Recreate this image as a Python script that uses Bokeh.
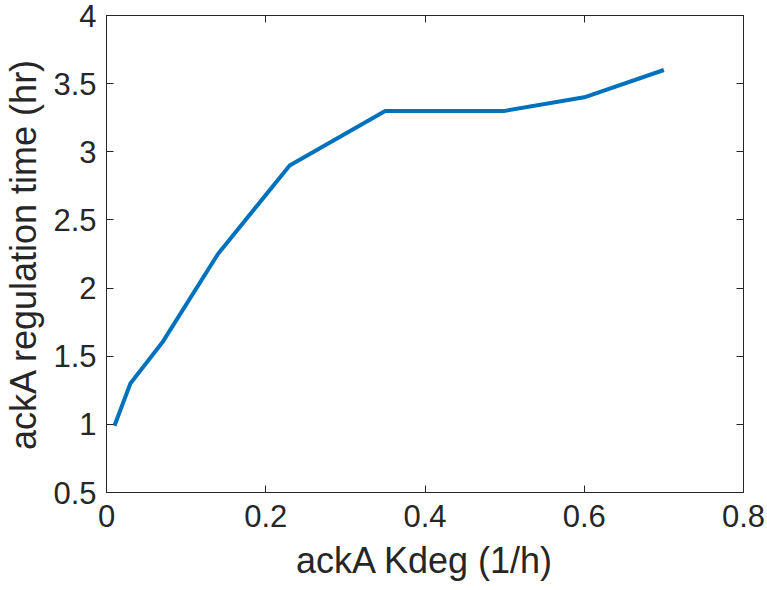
from bokeh.plotting import figure
from bokeh.models import Range1d, LinearAxis, FixedTicker
from bokeh.embed import file_html
from bokeh.resources import INLINE

kdeg = [0.01, 0.03, 0.07, 0.14, 0.23, 0.35, 0.5, 0.6, 0.7]
reg_time = [0.99, 1.3, 1.6, 2.25, 2.9, 3.3, 3.3, 3.4, 3.6]
x_ticks = [0, 0.2, 0.4, 0.6, 0.8]
y_ticks = [0.5, 1, 1.5, 2, 2.5, 3, 3.5, 4]
x_label = "ackA Kdeg (1/h)"
y_label = "ackA regulation time (hr)"

FONT = "Liberation Sans"
TXT = "#262626"
AX = "#262626"

p = figure(width=767, height=590, frame_width=637, frame_height=477,
           min_border_left=106, min_border_right=24, min_border_top=15, min_border_bottom=98,
           x_range=Range1d(0, 0.8), y_range=Range1d(0.5, 4),
           output_backend="svg", toolbar_location=None)
p.xgrid.visible = False
p.ygrid.visible = False
p.outline_line_color = AX
p.outline_line_width = 1

p.line(kdeg, reg_time, line_color="#0072BD", line_width=4)

def style(ax):
    ax.axis_line_color = AX
    ax.major_tick_line_color = AX
    ax.major_tick_in = 7
    ax.major_tick_out = 0
    ax.minor_tick_line_color = None
    ax.major_label_text_font = FONT
    ax.major_label_text_font_size = "31px"
    ax.major_label_text_color = TXT
    ax.axis_label_text_font = FONT
    ax.axis_label_text_font_size = "36px"
    ax.axis_label_text_font_style = "normal"
    ax.axis_label_text_color = TXT

p.xaxis.ticker = FixedTicker(ticks=x_ticks)
p.yaxis.ticker = FixedTicker(ticks=y_ticks)
p.xaxis.major_label_overrides = {0: "0"}
p.yaxis.major_label_overrides = {1: "1", 2: "2", 3: "3", 4: "4"}
p.xaxis.axis_label = x_label
p.yaxis.axis_label = y_label
style(p.xaxis[0])
style(p.yaxis[0])
p.xaxis.major_label_standoff = 12
p.yaxis.major_label_standoff = 10
p.xaxis.axis_label_standoff = 10
p.yaxis.axis_label_standoff = 6

top = LinearAxis(ticker=FixedTicker(ticks=x_ticks))
style(top)
top.major_label_text_font_size = "1px"
top.major_label_overrides = {t: "" for t in x_ticks}
top.major_label_standoff = 0
p.add_layout(top, "above")
right = LinearAxis(ticker=FixedTicker(ticks=y_ticks))
style(right)
right.major_label_text_font_size = "1px"
right.major_label_overrides = {t: "" for t in y_ticks}
right.major_label_standoff = 0
p.add_layout(right, "right")

open("out.html", "w").write(file_html(p, INLINE))
